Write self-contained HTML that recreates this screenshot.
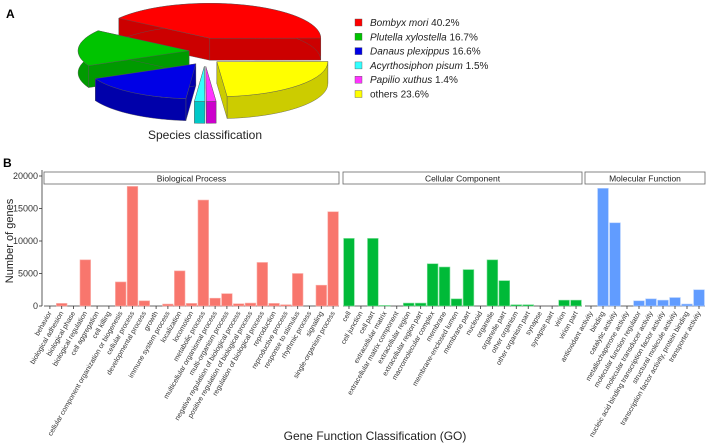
<!DOCTYPE html>
<html><head><meta charset="utf-8">
<style>
body{margin:0;background:#fff;}
svg{display:block;font-family:"Liberation Sans",sans-serif;}
</style></head>
<body>
<svg id="svg" width="708" height="444" viewBox="0 0 708 444">
<text x="6" y="18" font-size="12" font-weight="bold">A</text>
<text x="3" y="167" font-size="12" font-weight="bold">B</text>
<g id="pie"></g>
<g id="legend"></g>
<text x="205" y="139" font-size="12" text-anchor="middle" fill="#222">Species classification</text>
<g id="bars"></g>
<text transform="translate(13,241) rotate(-90)" font-size="11" text-anchor="middle" fill="#222">Number of genes</text>
<text x="375" y="440" font-size="12" text-anchor="middle" fill="#222">Gene Function Classification (GO)</text>
</svg>
<script>
const NS="http://www.w3.org/2000/svg";
const pieLabels=["Bombyx mori","Plutella xylostella","Danaus plexippus","Acyrthosiphon pisum","Papilio xuthus","others"];
const pieValues=[40.2,16.7,16.6,1.5,1.4,23.6];
const pieTop=["#ff0000","#00c400","#0000e6","#33ffff","#ff33ff","#ffff00"];
const pieSide=["#cc0000","#009a00","#0000aa","#00c8c8","#cc00cc","#cccc00"];

const bpCats=["behavior","biological adhesion","biological phase","biological regulation","cell aggregation","cell killing","cellular component organization or biogenesis","cellular process","developmental process","growth","immune system process","localization","locomotion","metabolic process","multicellular organismal process","multi-organism process","negative regulation of biological process","positive regulation of biological process","regulation of biological process","reproduction","reproductive process","response to stimulus","rhythmic process","signaling","single-organism process"];
const bpVals=[0,400,0,7100,0,0,3700,18400,800,0,300,5400,400,16300,1200,1900,350,450,6700,400,200,5000,0,3200,14500];
const ccCats=["cell","cell junction","cell part","extracellular matrix","extracellular matrix component","extracellular region","extracellular region part","macromolecular complex","membrane","membrane-enclosed lumen","membrane part","nucleoid","organelle","organelle part","other organism","other organism part","synapse","synapse part","virion","virion part"];
const ccVals=[10400,0,10400,100,0,450,450,6500,6000,1100,5600,0,7100,3900,200,200,0,0,900,900];
const mfCats=["antioxidant activity","binding","catalytic activity","metallochaperone activity","molecular function regulator","molecular transducer activity","nucleic acid binding transcription factor activity","structural molecule activity","transcription factor activity, protein binding","transporter activity"];
const mfVals=[0,18100,12800,0,800,1100,900,1300,300,2500];
const yTicks=[0,5000,10000,15000,20000];
const panelNames=["Biological Process","Cellular Component","Molecular Function"];

function mk(tag,attrs,parent){const e=document.createElementNS(NS,tag);for(const k in attrs)e.setAttribute(k,attrs[k]);parent.appendChild(e);return e;}

// ---- pie ----
const pie=document.getElementById('pie');
const cx=205,cy=52,rx=111,ry=35,depth=22,expl=16;
const total=pieValues.reduce((a,b)=>a+b,0);
const startOrder=[0,5,4,3,2,1]; // red, then yellow ... clockwise
let slices=[];let ang=215;
// red starts at 215deg then clockwise: red, yellow, magenta, cyan, blue, green
const seq=[0,5,4,3,2,1];
seq.forEach(i=>{const sw=pieValues[i]/total*360;slices.push({i,a0:ang,a1:ang+sw});ang+=sw;});
function pt(ox,oy,a,dz){const r=a*Math.PI/180;return [ox+rx*Math.cos(r),oy+ry*Math.sin(r)+dz];}
slices.forEach(s=>{s.mid=(s.a0+s.a1)/2;const r=s.mid*Math.PI/180;s.ox=cx+expl*Math.cos(r);s.oy=cy+expl*0.9*Math.sin(r);});
slices.sort((a,b)=>Math.sin(a.mid*Math.PI/180)-Math.sin(b.mid*Math.PI/180));
slices.forEach(s=>{
  const g=mk('g',{},pie);
  
  
  const st={stroke:"#555","stroke-width":"0.4","stroke-linejoin":"round"};
  const p0=pt(s.ox,s.oy,s.a0,0),p1=pt(s.ox,s.oy,s.a1,0);
  // radial walls
  [p0,p1].forEach(p=>{mk('polygon',Object.assign({points:`${s.ox},${s.oy} ${p[0]},${p[1]} ${p[0]},${p[1]+depth} ${s.ox},${s.oy+depth}`,fill:pieSide[s.i]},st),g);});
  // outer wall
  let top=[],bot=[];
  for(let a=s.a0;a<=s.a1+0.001;a+=Math.max(0.5,(s.a1-s.a0)/60)){top.push(pt(s.ox,s.oy,a,0));bot.push(pt(s.ox,s.oy,a,depth));}
  top.push(p1);bot.push(pt(s.ox,s.oy,s.a1,depth));
  const band=top.concat(bot.reverse()).map(p=>p.join(',')).join(' ');
  mk('polygon',Object.assign({points:band,fill:pieSide[s.i]},st),g);
  // top face
  const large=(s.a1-s.a0)>180?1:0;
  mk('path',Object.assign({d:`M${s.ox},${s.oy} L${p0[0]},${p0[1]} A${rx},${ry} 0 ${large} 1 ${p1[0]},${p1[1]} Z`,fill:pieTop[s.i]},st),g);
});
// legend
const leg=document.getElementById('legend');
pieLabels.forEach((l,i)=>{
  const y=23+14.3*i;
  const g=mk('g',{},leg);
  
  
  mk('rect',{x:355,y:y-4,width:7,height:7,fill:pieTop[i],stroke:"#555","stroke-width":"0.4"},g);
  const t=mk('text',{x:370,y:y+3,"font-size":"10",fill:"#222"},g);
  if(i<5){const a=mk('tspan',{"font-style":"italic"},t);a.textContent=l;const b=mk('tspan',{},t);b.textContent=" "+pieValues[i]+"%";}
  else t.textContent=l+" "+pieValues[i]+"%";
});

// ---- bars ----
const bars=document.getElementById('bars');
const y0=306,yTop=176,ymax=20000;
const yScale=v=>y0-(v/ymax)*(y0-yTop);
// y axis
const ax=mk('line',{x1:42,y1:170,x2:42,y2:y0,stroke:"#333","stroke-width":"0.8"},bars);

yTicks.forEach(t=>{
  const y=yScale(t);
  mk('line',{x1:39,y1:y,x2:42,y2:y,stroke:"#333","stroke-width":"0.8"},bars);
  const tx=mk('text',{x:38,y:y+3,"font-size":"9","text-anchor":"end",fill:"#333"},bars);
  tx.textContent=t;
  
});
const panels=[{x0:44,x1:339,cats:bpCats,vals:bpVals,col:"#f8766d",edge:"#fbb0aa"},
              {x0:343,x1:582,cats:ccCats,vals:ccVals,col:"#00ba38",edge:"#7fe09a"},
              {x0:585,x1:705,cats:mfCats,vals:mfVals,col:"#619cff",edge:"#b0cdff"}];
panels.forEach((p,pi)=>{
  const g=mk('g',{},bars);
  
  
  const hdr=mk('rect',{x:p.x0,y:172,width:p.x1-p.x0,height:12,fill:"#fff",stroke:"#666","stroke-width":"0.8"},g);
  
  const ht=mk('text',{x:(p.x0+p.x1)/2,y:181.5,"font-size":"8.5","text-anchor":"middle",fill:"#222"},g);
  ht.textContent=panelNames[pi];
  const n=p.cats.length,w=(p.x1-p.x0)/n;
  mk('line',{x1:p.x0,y1:y0,x2:p.x1,y2:y0,stroke:"#333","stroke-width":"0.8"},g);
  p.cats.forEach((c,i)=>{
    const xc=p.x0+w*(i+0.5);
    const v=p.vals[i];
    if(v>0){
      const r=mk('rect',{x:xc-w*0.45,y:yScale(v),width:w*0.9,height:y0-yScale(v),fill:p.col,stroke:p.edge,"stroke-width":"0.6"},g);
      
      
    }
    mk('line',{x1:xc,y1:y0,x2:xc,y2:y0+3,stroke:"#333","stroke-width":"0.8"},g);
    const t=mk('text',{transform:`translate(${xc+2},${y0+7}) rotate(-60)`,"font-size":"7","text-anchor":"end",fill:"#333"},g);
    t.textContent=c;
    
    
  });
});
</script>
</body></html>
